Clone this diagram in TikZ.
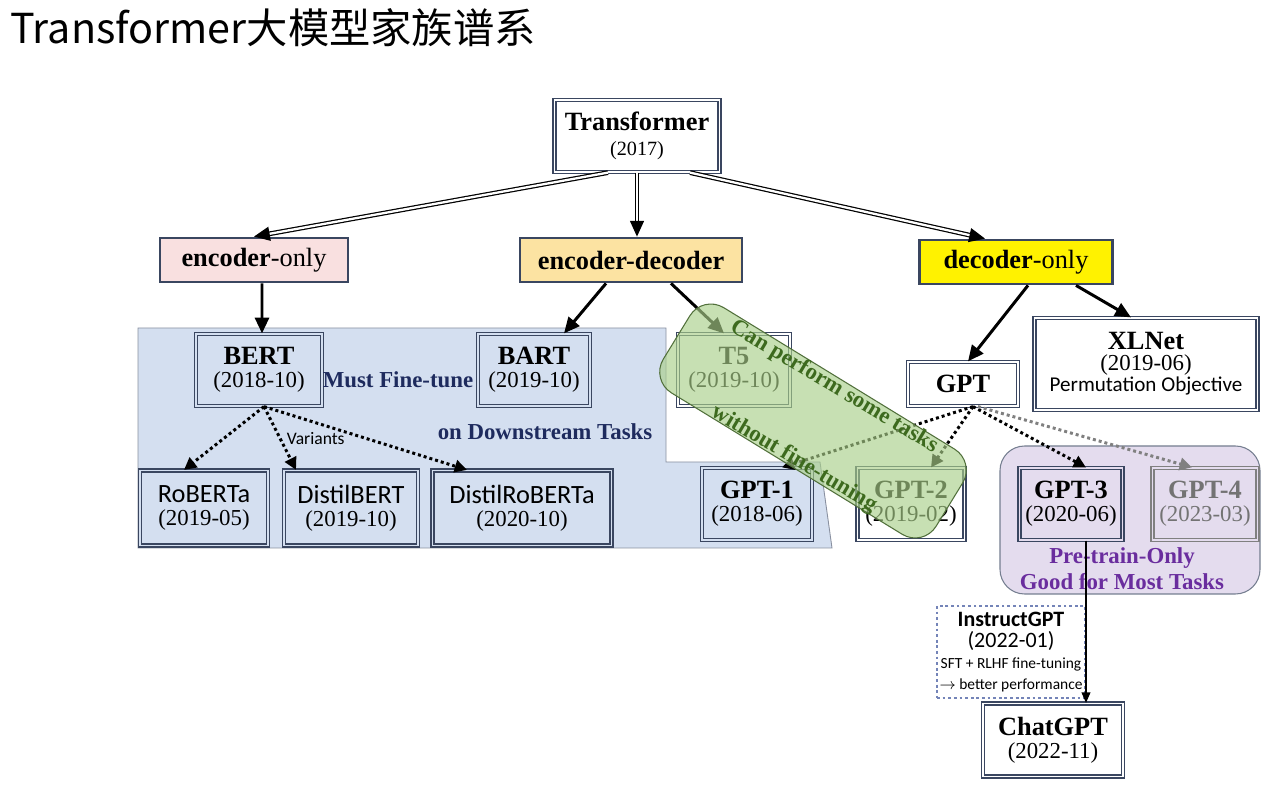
\documentclass[tikz,border=0pt]{standalone}
\usepackage{fontspec}
\setmainfont{Liberation Serif}
\newfontfamily\carl{Carlito}
\newfontfamily\cjk{Noto Sans CJK SC}
\usetikzlibrary{arrows.meta}
\definecolor{framec}{HTML}{3A4660}
\definecolor{bluereg}{HTML}{D4DFF0}
\definecolor{purpreg}{HTML}{E4DCEE}
\definecolor{pinkfill}{HTML}{F9E0E0}
\definecolor{orfill}{HTML}{FCE3A2}
\definecolor{navytxt}{HTML}{1E2B5E}
\definecolor{purptxt}{HTML}{6A2D9E}
\definecolor{greentxt}{HTML}{3D6A1E}
\definecolor{greenband}{HTML}{A9CF8A}
\definecolor{dotblue}{HTML}{7484B8}
\newcommand{\nm}[1]{{\fontsize{15}{17}\selectfont\bfseries #1}}
\newcommand{\yr}[1]{{\fontsize{13}{15}\selectfont #1}}
\newcommand{\snm}[1]{{\carl\fontsize{15}{17}\selectfont #1}}
\tikzset{
  model/.style={draw=framec, line width=0.7pt, double=white, double distance=1.1pt, align=center, inner sep=0pt},
  inmodel/.style={model, double=bluereg},
  family/.style={draw=framec, line width=1.6pt, align=center, inner sep=0pt, minimum height=0.88cm, font=\fontsize{15}{17}\selectfont},
  thickarr/.style={line width=1.7pt, -{Triangle[length=9pt,width=8pt]}},
  dblarr/.style={line width=0.7pt, double, double distance=1.3pt, -{Triangle[length=9pt,width=8pt]}},
  dotarr/.style={line width=1.7pt, dash pattern=on 1.7pt off 1.7pt, -{Triangle[length=7pt,width=7pt]}},
}
\begin{document}
\begin{tikzpicture}[x=0.02cm, y=-0.02cm]
\useasboundingbox (0,0) rectangle (1269,790);

\node[anchor=west, inner sep=0pt, font=\cjk\fontsize{23.5}{28}\selectfont] (title) at (10,28) {Transformer大模型家族谱系};

% shaded regions
\filldraw[fill=bluereg, draw=framec!60, line width=0.5pt] (138,328) -- (666,328) -- (666,462) -- (820,462) -- (832,548) -- (138,548) -- cycle;
\filldraw[fill=purpreg, draw=framec!70, line width=0.6pt, rounded corners=14pt] (1000,446) rectangle (1260,594);

\node[model, minimum width=3.3cm, minimum height=1.44cm] (tr) at (637,136) {\nm{Transformer}\\[2pt]{\fontsize{11.5}{13}\selectfont (2017)}};

\node[family, fill=pinkfill, minimum width=3.76cm] (eo) at (254,260) {\textbf{encoder}-only};
\node[family, fill=orfill, minimum width=4.44cm] (ed) at (631,260) {\textbf{encoder-decoder}};
\node[family, fill=yellow, minimum width=3.86cm] (do) at (1016,262) {\textbf{decoder}-only};

\node[inmodel, minimum width=2.52cm, minimum height=1.44cm] (bert) at (259,370) {\nm{BERT}\\[1pt]\yr{(2018-10)}};
\node[inmodel, minimum width=2.24cm, minimum height=1.44cm] (bart) at (534,370) {\nm{BART}\\[1pt]\yr{(2019-10)}};
\node[model, minimum width=2.24cm, minimum height=1.44cm] (t5) at (734,370) {\nm{T5}\\[1pt]\yr{(2019-10)}};

\node[inmodel, minimum width=2.56cm, minimum height=1.5cm] (roberta) at (204,508) {\snm{RoBERTa}\\[1pt]\yr{(2019-05)}};
\node[inmodel, minimum width=2.68cm, minimum height=1.5cm] (distilbert) at (351,508) {\snm{DistilBERT}\\[1pt]\yr{(2019-10)}};
\node[inmodel, minimum width=3.58cm, minimum height=1.5cm] (distilroberta) at (522,508) {\snm{DistilRoBERTa}\\[1pt]\yr{(2020-10)}};
\node[inmodel, minimum width=2.2cm, minimum height=1.44cm] (gpt1) at (757,504) {\nm{GPT-1}\\[1pt]\yr{(2018-06)}};

\node[font=\fontsize{13}{15}\selectfont\bfseries, text=navytxt, inner sep=1pt] (mustft) at (398,380) {Must Fine-tune};
\node[font=\fontsize{13}{15}\selectfont\bfseries, text=navytxt, inner sep=1pt] (downstr) at (545,432) {on Downstream Tasks};

\node[model, minimum width=2.2cm, minimum height=0.88cm] (gpt) at (963,384) {\nm{GPT}};
\node[model, minimum width=4.46cm, minimum height=1.84cm] (xlnet) at (1146,364) {\nm{XLNet}\\\yr{(2019-06)}\\{\carl\fontsize{12}{14}\selectfont Permutation Objective}};
\node[model, minimum width=2.14cm, minimum height=1.44cm] (gpt2) at (911,504) {\nm{GPT-2}\\[1pt]\yr{(2019-02)}};
\node[model, double=purpreg, minimum width=2.06cm, minimum height=1.44cm] (gpt3) at (1071,504) {\nm{GPT-3}\\[1pt]\yr{(2020-06)}};
\node[model, draw=gray, double=purpreg, text=gray!90!black, minimum width=2.1cm, minimum height=1.44cm] (gpt4) at (1205,504) {\nm{GPT-4}\\[1pt]\yr{(2023-03)}};

\node[font=\fontsize{13}{15}\selectfont\bfseries, text=purptxt, align=center, inner sep=0pt] (pretrain) at (1122,569) {Pre-train-Only\\Good for Most Tasks};

\node[draw=dotblue, line width=1.6pt, dash pattern=on 1.6pt off 1.6pt, fill=white, align=center, inner sep=0pt, minimum width=2.96cm, minimum height=1.84cm] (instruct) at (1011,652)
  {{\carl\bfseries\fontsize{12.5}{14}\selectfont InstructGPT}\\{\carl\fontsize{12.5}{14}\selectfont (2022-01)}\\{\carl\fontsize{8.8}{10}\selectfont SFT + RLHF fine-tuning}\\{\carl\fontsize{8.8}{10}\selectfont $\rightarrow$ better performance}};
\node[model, minimum width=2.8cm, minimum height=1.46cm] (chat) at (1053,740) {\nm{ChatGPT}\\[1pt]\yr{(2022-11)}};

% connectors
\draw[dblarr] ([xshift=-0.58cm]tr.south) -- (eo.north);
\draw[dblarr] (tr.south) -- (tr.south |- ed.north);
\draw[dblarr] ([xshift=1.06cm]tr.south) -- ([xshift=-0.62cm]do.north);
\draw[thickarr] ([xshift=0.16cm]eo.south) -- ([xshift=0.06cm]bert.north);
\draw[thickarr] ([xshift=-0.5cm]ed.south) -- ([xshift=0.6cm]bart.north);
\draw[thickarr] ([xshift=0.8cm]ed.south) -- ([xshift=-0.2cm]t5.north);
\draw[thickarr] ([xshift=0.24cm]do.south) -- ([xshift=0.1cm]gpt.north);
\draw[thickarr] ([xshift=1.2cm]do.south) -- ([xshift=-0.3cm]xlnet.north);

\draw[dotarr] ([xshift=0.1cm]bert.south) -- ([xshift=-0.4cm]roberta.north);
\draw[dotarr] ([xshift=0.1cm]bert.south) -- node[pos=0.5, right=2pt, inner sep=1pt, font=\carl\fontsize{10}{12}\selectfont] {Variants} ([xshift=-1.1cm]distilbert.north);
\draw[dotarr] ([xshift=0.1cm]bert.south) -- ([xshift=-1.1cm]distilroberta.north);

\draw[dotarr] ([xshift=0.2cm]gpt.south) -- ([xshift=0.5cm]gpt1.north);
\draw[dotarr] ([xshift=0.2cm]gpt.south) -- ([xshift=0.4cm]gpt2.north);
\draw[dotarr] ([xshift=0.2cm]gpt.south) -- ([xshift=0.3cm]gpt3.north);
\draw[dotarr, gray] ([xshift=0.3cm]gpt.south) -- ([xshift=-0.26cm]gpt4.north);
\draw[line width=0.8pt, -{Triangle[length=6pt,width=5pt]}] ([xshift=0.3cm]gpt3.south) -- ([xshift=0.3cm]gpt3.south |- chat.north);

% green overlay
\node[draw=greentxt!70!gray, line width=0.6pt, fill=greenband, fill opacity=0.65, rounded corners=14pt, rotate=-31.5, minimum width=6.4cm, minimum height=2cm] (band) at (813,421) {};
\node[rotate=-30.9, text=greentxt, font=\fontsize{13}{15}\selectfont\bfseries, inner sep=0pt] (cantxt) at (834,387) {Can perform some tasks};
\node[rotate=-30.7, text=greentxt, font=\fontsize{13}{15}\selectfont\bfseries, inner sep=0pt] (wotxt) at (794,459) {without fine-tuning};
\end{tikzpicture}
\end{document}
